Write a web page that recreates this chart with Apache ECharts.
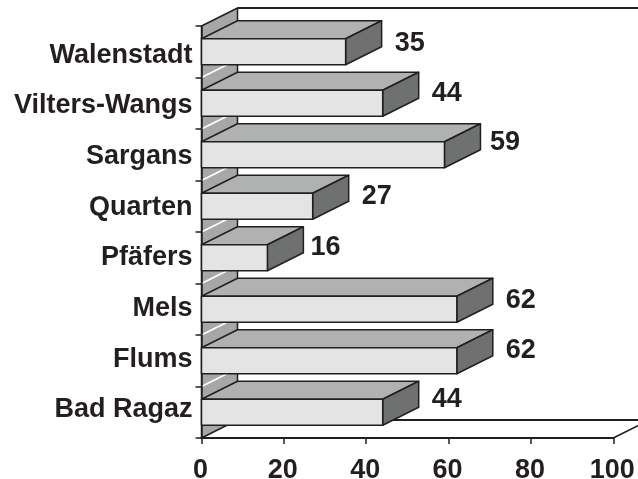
<!DOCTYPE html>
<html>
<head>
<meta charset="utf-8">
<style>html,body{margin:0;padding:0;background:#fff}#chart{width:638px;height:479px}</style>
<script src="https://cdn.jsdelivr.net/npm/echarts@6/dist/echarts.min.js"></script>
</head>
<body>
<div id="chart"></div>
<script>
// Municipalities, listed from the bottom of the chart upwards
const municipalities = ['Bad Ragaz', 'Flums', 'Mels', 'Pfäfers', 'Quarten', 'Sargans', 'Vilters-Wangs', 'Walenstadt'];
const counts = [44, 62, 62, 16, 27, 59, 44, 35];
const axisTicks = [0, 20, 40, 60, 80, 100];

// Hand-set nudges [dx, dy] for the value labels, same order as counts
const valueLabelNudge = [[0, -2.5], [0, 0], [0, 1.5], [-6, 0.5], [0, 0.5], [-3.5, -1.5], [0, 0.5], [0, 2]];

// Oblique projection used for the pseudo-3D look
const DEPTH_X = 36;
const DEPTH_Y = -18;
const BAR_HEIGHT = 26;
const VALUE_LABEL_DX = 13;
const VALUE_LABEL_DY = -10.5;

const INK = '#231f20';
const FONT = '"Liberation Sans", Arial, sans-serif';
const LABEL_SIZE = 27;

function shifted(p) { return [p[0] + DEPTH_X, p[1] + DEPTH_Y]; }

function polygon(points, fill) {
  return {
    type: 'polygon',
    shape: { points: points },
    style: { fill: fill, stroke: INK, lineWidth: 1.5, lineJoin: 'round' }
  };
}

function line(a, b, stroke, width) {
  return {
    type: 'line',
    shape: { x1: a[0], y1: a[1], x2: b[0], y2: b[1] },
    style: { stroke: stroke, lineWidth: width }
  };
}

// Back wall, floor and shaded left wall of the box
function renderBox(params, api) {
  const g = params.coordSys;
  const frontTop = [g.x, g.y];
  const frontBottom = [g.x, g.y + g.height];
  const frontRight = [g.x + g.width, g.y + g.height];
  const backTop = shifted(frontTop);
  const backBottom = shifted(frontBottom);
  const backRight = shifted(frontRight);
  const band = g.height / municipalities.length;
  const children = [
    line(backTop, [backRight[0], backTop[1]], INK, 2),
    line(backBottom, backRight, INK, 2),
    line(frontRight, backRight, INK, 1.5),
    polygon([frontTop, backTop, backBottom, frontBottom], '#a6a7a7')
  ];
  for (let i = 1; i < municipalities.length; i++) {
    const y = g.y + i * band;
    children.push(line([g.x, y], [g.x + DEPTH_X, y + DEPTH_Y], '#ffffff', 1.8));
  }
  return { type: 'group', children: children };
}

// One extruded bar with its value beside the end cap
function renderBar(params, api) {
  const value = api.value(0);
  const end = api.coord([value, api.value(1)]);
  const start = api.coord([0, api.value(1)]);
  const nudge = valueLabelNudge[params.dataIndex];
  const top = end[1] - BAR_HEIGHT / 2;
  const bottom = end[1] + BAR_HEIGHT / 2;
  const tl = [start[0], top];
  const tr = [end[0], top];
  const br = [end[0], bottom];
  const bl = [start[0], bottom];
  return {
    type: 'group',
    children: [
      polygon([tl, shifted(tl), shifted(tr), tr], '#b0b1b1'),
      polygon([tr, shifted(tr), shifted(br), br], '#6f7070'),
      polygon([tl, tr, br, bl], '#e3e4e3'),
      {
        type: 'text',
        style: {
          text: String(value),
          x: end[0] + DEPTH_X + VALUE_LABEL_DX + nudge[0],
          y: end[1] + VALUE_LABEL_DY + nudge[1],
          fill: INK,
          font: 'bold ' + LABEL_SIZE + 'px ' + FONT,
          align: 'left',
          verticalAlign: 'middle'
        }
      }
    ]
  };
}

const categoryLabelStyle = {
  show: true, interval: 0, margin: 9, color: INK, fontFamily: FONT, fontWeight: 'bold', fontSize: LABEL_SIZE
};

const chart = echarts.init(document.getElementById('chart'), null, { renderer: 'canvas' });
chart.setOption({
  animation: false,
  backgroundColor: '#ffffff',
  grid: [
    { left: 201.5, top: 26, width: 411.8, height: 412, outerBoundsMode: 'none' },
    // The category names sit on a slightly tighter pitch than the bars
    { left: 201.5, top: 29.7, width: 411.8, height: 405.6, outerBoundsMode: 'none' }
  ],
  xAxis: [
    {
      type: 'value',
      gridIndex: 0,
      min: axisTicks[0],
      max: axisTicks[axisTicks.length - 1],
      interval: axisTicks[1] - axisTicks[0],
      z: 3,
      splitLine: { show: false },
      axisLine: { show: true, lineStyle: { color: INK, width: 2 } },
      axisTick: { show: true, length: 6, lineStyle: { color: INK, width: 1.5 } },
      axisLabel: {
        show: true, margin: 19, padding: [0, 2, 0, 0], color: INK, fontFamily: FONT, fontWeight: 'bold',
        fontSize: LABEL_SIZE, hideOverlap: false, showMinLabel: true, showMaxLabel: true
      }
    },
    { type: 'value', gridIndex: 1, show: false, min: 0, max: 100 }
  ],
  yAxis: [
    {
      type: 'category',
      gridIndex: 0,
      data: municipalities,
      z: 3,
      axisLine: { show: true, lineStyle: { color: INK, width: 1.5 } },
      axisTick: { show: true, length: 6, lineStyle: { color: INK, width: 1.5 } },
      axisLabel: { show: false }
    },
    {
      type: 'category',
      gridIndex: 1,
      data: municipalities,
      z: 3,
      axisLine: { show: false },
      axisTick: { show: false },
      axisLabel: categoryLabelStyle
    }
  ],
  series: [
    {
      type: 'custom',
      name: 'Box',
      z: 1,
      silent: true,
      xAxisIndex: 0,
      yAxisIndex: 0,
      renderItem: renderBox,
      data: [[0, 0]],
      encode: { x: 0, y: 1 }
    },
    {
      type: 'custom',
      name: 'Anzahl',
      z: 4,
      xAxisIndex: 0,
      yAxisIndex: 0,
      renderItem: renderBar,
      data: counts.map(function (v, i) { return [v, i]; }),
      encode: { x: 0, y: 1 }
    }
  ]
});
</script>
</body>
</html>
